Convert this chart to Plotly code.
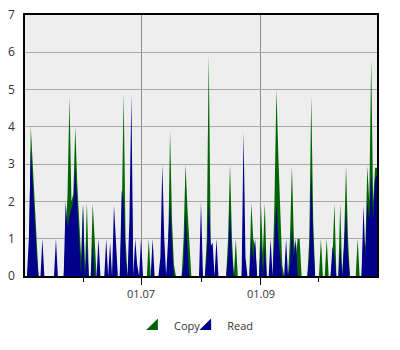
import pandas as pd
import plotly.graph_objects as go

# ---- data (non-zero days; all other days are zero) ----
start_date = "2023-05-02"
end_date = "2023-10-31"

copy_dates = ["2023-05-05", "2023-05-06", "2023-05-07", "2023-05-08",
              "2023-05-23", "2023-05-24", "2023-05-25", "2023-05-26", "2023-05-27", "2023-05-28",
              "2023-05-29", "2023-05-30", "2023-05-31",
              "2023-06-01", "2023-06-03", "2023-06-06", "2023-06-07",
              "2023-06-21", "2023-06-22", "2023-06-23", "2023-06-26",
              "2023-07-05", "2023-07-15", "2023-07-16", "2023-07-17", "2023-07-18",
              "2023-07-23", "2023-07-24", "2023-07-25", "2023-07-26",
              "2023-08-01", "2023-08-04", "2023-08-05", "2023-08-06",
              "2023-08-15", "2023-08-16", "2023-08-17", "2023-08-19", "2023-08-23",
              "2023-08-27", "2023-08-28", "2023-08-29",
              "2023-09-01", "2023-09-02", "2023-09-03",
              "2023-09-08", "2023-09-09", "2023-09-10", "2023-09-11", "2023-09-12",
              "2023-09-16", "2023-09-17", "2023-09-18", "2023-09-19", "2023-09-20", "2023-09-21",
              "2023-09-26", "2023-09-27", "2023-09-28",
              "2023-10-02", "2023-10-05", "2023-10-08", "2023-10-09", "2023-10-12",
              "2023-10-14", "2023-10-15", "2023-10-16", "2023-10-21",
              "2023-10-24", "2023-10-25", "2023-10-26", "2023-10-27", "2023-10-28",
              "2023-10-29", "2023-10-30", "2023-10-31"]
copy_values = [4.0, 3.0, 2.0, 1.0,
               1.0, 2.2, 4.8, 2.0, 2.2, 4.0,
               2.5, 1.5, 0.5,
               1.95, 2.0, 1.95, 1.0,
               1.5, 4.9, 1.0, 3.0,
               1.0, 0.5, 3.9, 1.5, 0.3,
               1.0, 3.0, 1.8, 0.8,
               0.5, 1.0, 5.94, 1.0,
               1.0, 3.0, 1.0, 1.0, 1.0,
               1.97, 1.0, 0.8,
               1.9, 0.6, 1.97,
               2.0, 5.0, 3.2, 1.6, 0.3,
               1.0, 2.95, 1.0, 0.5, 1.0, 1.0,
               1.0, 4.82, 1.5,
               1.0, 1.0, 0.5, 1.95, 1.95,
               1.0, 2.95, 1.0, 1.0,
               1.0, 0.8, 2.95, 2.0, 5.82,
               2.0, 2.9, 2.9]

read_dates = ["2023-05-04", "2023-05-05", "2023-05-06", "2023-05-07", "2023-05-08", "2023-05-11", "2023-05-18",
              "2023-05-23", "2023-05-24", "2023-05-25", "2023-05-26", "2023-05-27", "2023-05-28",
              "2023-05-29", "2023-05-30",
              "2023-06-01", "2023-06-03", "2023-06-06", "2023-06-09",
              "2023-06-13", "2023-06-15", "2023-06-17", "2023-06-18",
              "2023-06-21", "2023-06-22", "2023-06-23", "2023-06-25", "2023-06-26",
              "2023-06-28", "2023-06-29", "2023-07-01",
              "2023-07-07", "2023-07-11", "2023-07-12", "2023-07-13",
              "2023-07-15", "2023-07-16", "2023-07-17",
              "2023-07-23", "2023-07-24", "2023-07-25",
              "2023-08-01", "2023-08-04", "2023-08-05", "2023-08-06", "2023-08-07", "2023-08-09",
              "2023-08-15", "2023-08-16", "2023-08-17", "2023-08-23", "2023-08-24",
              "2023-08-27", "2023-08-28", "2023-08-29",
              "2023-09-01", "2023-09-03", "2023-09-06",
              "2023-09-08", "2023-09-09", "2023-09-10", "2023-09-11", "2023-09-14",
              "2023-09-16", "2023-09-17", "2023-09-18", "2023-09-19",
              "2023-09-26", "2023-09-27", "2023-09-28",
              "2023-10-08", "2023-10-09", "2023-10-12", "2023-10-14", "2023-10-15", "2023-10-16",
              "2023-10-24", "2023-10-25", "2023-10-26", "2023-10-27", "2023-10-28",
              "2023-10-29", "2023-10-30", "2023-10-31"]
read_values = [1.0, 3.4, 2.5, 1.5, 0.6, 1.0, 1.0,
               2.0, 1.3, 1.6, 1.8, 2.0, 2.9,
               1.8, 0.8,
               1.9, 0.9, 0.9, 1.0,
               1.0, 0.9, 1.9, 0.8,
               2.3, 2.0, 0.5, 1.5, 4.86,
               1.0, 0.3, 1.0,
               1.0, 0.5, 3.0, 1.0,
               1.0, 2.0, 0.8,
               0.3, 1.7, 0.7,
               2.0, 0.5, 2.0, 0.8, 0.9, 1.0,
               0.5, 1.8, 0.5, 3.88, 0.5,
               1.0, 0.4, 1.0,
               1.0, 0.8, 1.0,
               1.0, 1.95, 1.0, 0.5, 1.0,
               0.3, 1.3, 0.5, 1.0,
               0.5, 2.8, 1.0,
               0.8, 0.5, 0.8, 0.8, 1.8, 0.5,
               1.9, 0.5, 2.0, 1.5, 2.75,
               1.5, 2.6, 2.7]

series_names = ["Copy", "Read"]
series_colors = ["#006400", "#00008b"]

major_ticks = ["2023-07-01", "2023-09-01"]
major_labels = ["01.07", "01.09"]
minor_ticks = ["2023-06-01", "2023-08-01", "2023-10-01"]

# ---- build daily series ----
days = pd.date_range(start_date, end_date, freq="D")
copy_s = pd.Series(copy_values, index=pd.to_datetime(copy_dates)).reindex(days, fill_value=0.0)
read_s = pd.Series(read_values, index=pd.to_datetime(read_dates)).reindex(days, fill_value=0.0)

fig = go.Figure()
for name, s, col in zip(series_names, [copy_s, read_s], series_colors):
    fig.add_trace(go.Scatter(
        x=s.index, y=s.values, name=name, mode="lines",
        line=dict(width=0, color=col), fill="tozeroy", fillcolor=col,
        hoverinfo="skip", showlegend=False))
# legend entries with wedge-shaped icons (one legend box per series)
for name, col, lg in zip(series_names, series_colors, ["legend", "legend2"]):
    fig.add_trace(go.Scatter(
        x=[None], y=[None], name=name, mode="markers", legend=lg,
        marker=dict(symbol="triangle-se", size=13, color=col, line=dict(width=0)),
        hoverinfo="skip", showlegend=True))

font_family = "Open Sans"
legend_common = dict(orientation="h", xanchor="left", xref="container",
                     y=0.068, yanchor="middle", yref="container",
                     font=dict(size=11, color="#333333"), bgcolor="rgba(0,0,0,0)",
                     itemwidth=30)
fig.update_layout(
    width=400, height=350,
    margin=dict(l=25, r=23, t=15, b=74),
    paper_bgcolor="white", plot_bgcolor="#eeeeee",
    font=dict(family=font_family, size=11, color="#333333"),
    showlegend=True,
    legend=dict(x=0.335, **legend_common),
    legend2=dict(x=0.468, **legend_common),
    xaxis=dict(
        type="date", range=[start_date, end_date], automargin=False,
        tickmode="array", tickvals=major_ticks, ticktext=major_labels,
        ticks="outside", ticklen=7, tickcolor="black", tickwidth=1,
        showgrid=True, gridcolor="#8c8c8c", gridwidth=1,
        minor=dict(tickmode="array", tickvals=minor_ticks, ticks="outside", ticklen=4,
                   tickcolor="black", showgrid=False),
        showline=True, linecolor="black", linewidth=1.5, mirror=True,
        zeroline=False, tickfont=dict(size=11, color="#333333")),
    yaxis=dict(
        range=[0, 7], tickmode="linear", tick0=0, dtick=1, automargin=False,
        ticks="", showgrid=True, gridcolor="#a8a8a8", gridwidth=1,
        showline=True, linecolor="black", linewidth=1.5, mirror=True,
        zeroline=False, ticklabelstandoff=6,
        tickfont=dict(size=12, color="#333333")),
)

fig.write_html("out.html")
